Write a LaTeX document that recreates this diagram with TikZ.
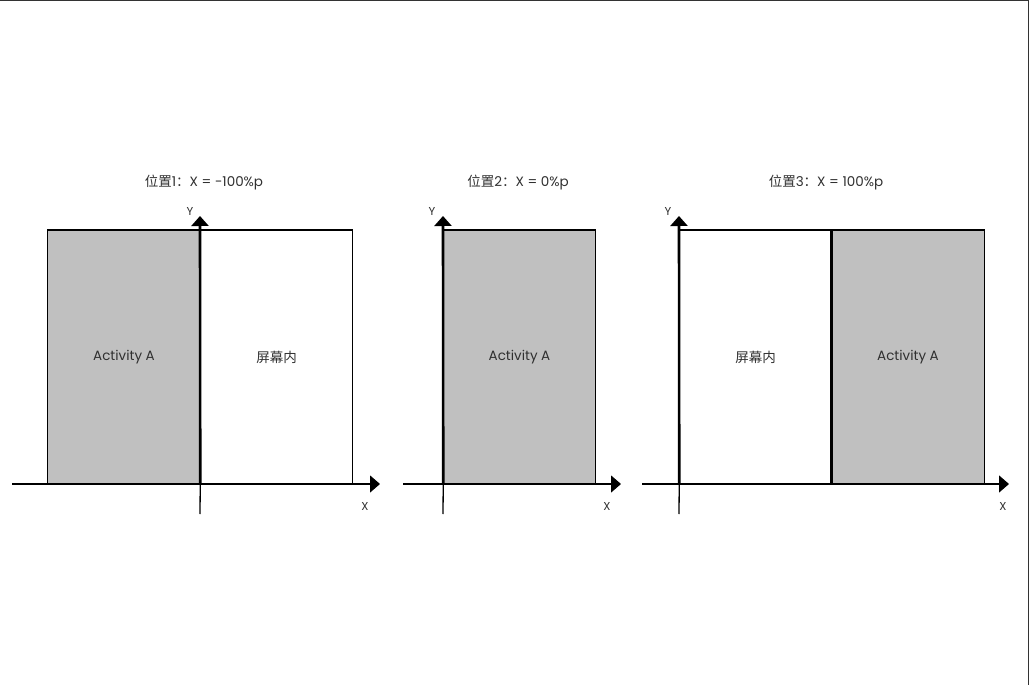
\documentclass[tikz,border=0pt]{standalone}
\usepackage{fontspec}
\setmainfont{Poppins}
\newfontfamily\cjk{Noto Sans CJK SC}
\usetikzlibrary{arrows.meta,positioning}
\definecolor{actgray}{HTML}{C0C0C0}
\definecolor{txtgray}{HTML}{303030}
\tikzset{
  pane/.style={draw,line width=1.3pt,minimum width=152.5pt,minimum height=254pt,
    inner sep=0pt,outer sep=0pt,text=txtgray,font=\fontsize{13.5}{15}\selectfont},
  actpane/.style={pane,fill=actgray},
  axisline/.style={line width=1.3pt},
  axisarrow/.style={-{Triangle[width=17pt,length=10pt]}},
  yaxis/.style={line width=2.6pt},
  axlabel/.style={text=txtgray,font=\fontsize{11.5}{13}\selectfont,inner sep=0pt},
  postitle/.style={text=txtgray,font=\fontsize{13.5}{15}\selectfont,inner sep=0pt}
}
\begin{document}
\begin{tikzpicture}[x=1pt,y=-1pt]
      \useasboundingbox (0,0) rectangle (1029,685);
      \draw[line width=1.5pt,black!80] (0,0.5) -- (1028.5,0.5) -- (1028.5,685);
      % position 1
      \node[postitle] (title1) at (204,183) {{\cjk 位置}1{\cjk ：}X = -100\%p};
      \node[actpane] (act1) at (124,357) {Activity A};
      \node[pane,right=0pt of act1] (scr1) {{\cjk 屏幕内}};
      \coordinate (o1) at (act1.south east);
      \coordinate (xs1) at (12,484);
      \coordinate (xe1) at (380,484);
      \coordinate (ys1) at (200,514);
      \coordinate (ye1) at (200,216);
      \draw[axisline,axisarrow] (xs1) -- (xe1);
      \draw[axisline] (ys1) -- (o1);
      \draw[yaxis,axisarrow] (o1) -- (ye1);
      \node[axlabel] (ylab1) at (190,211) {Y};
      \node[axlabel] (xlab1) at (365,506) {X};
      % position 2
      \node[postitle] (title2) at (518,183) {{\cjk 位置}2{\cjk ：}X = 0\%p};
      \node[actpane] (act2) at (519.5,357) {Activity A};
      \coordinate (o2) at (act2.south west);
      \coordinate (xs2) at (403,484);
      \coordinate (xe2) at (621,484);
      \coordinate (ys2) at (443,514);
      \coordinate (ye2) at (443,216);
      \draw[axisline,axisarrow] (xs2) -- (xe2);
      \draw[axisline] (ys2) -- (o2);
      \draw[yaxis,axisarrow] (o2) -- (ye2);
      \node[axlabel] (ylab2) at (432,211) {Y};
      \node[axlabel] (xlab2) at (607,506) {X};
      % position 3
      \node[postitle] (title3) at (826,183) {{\cjk 位置}3{\cjk ：}X = 100\%p};
      \node[pane] (scr3) at (755.5,357) {{\cjk 屏幕内}};
      \node[actpane,right=0pt of scr3] (act3) {Activity A};
      \coordinate (o3) at (scr3.south west);
      \coordinate (xs3) at (642,484);
      \coordinate (xe3) at (1009,484);
      \coordinate (ys3) at (679,514);
      \coordinate (ye3) at (679,216);
      \draw[axisline,axisarrow] (xs3) -- (xe3);
      \draw[axisline] (ys3) -- (o3);
      \draw[yaxis,axisarrow] (o3) -- (ye3);
      \draw[yaxis] (scr3.south east) -- (scr3.north east);
      \node[axlabel] (ylab3) at (668,211) {Y};
      \node[axlabel] (xlab3) at (1003,506) {X};
    \end{tikzpicture}
\end{document}
